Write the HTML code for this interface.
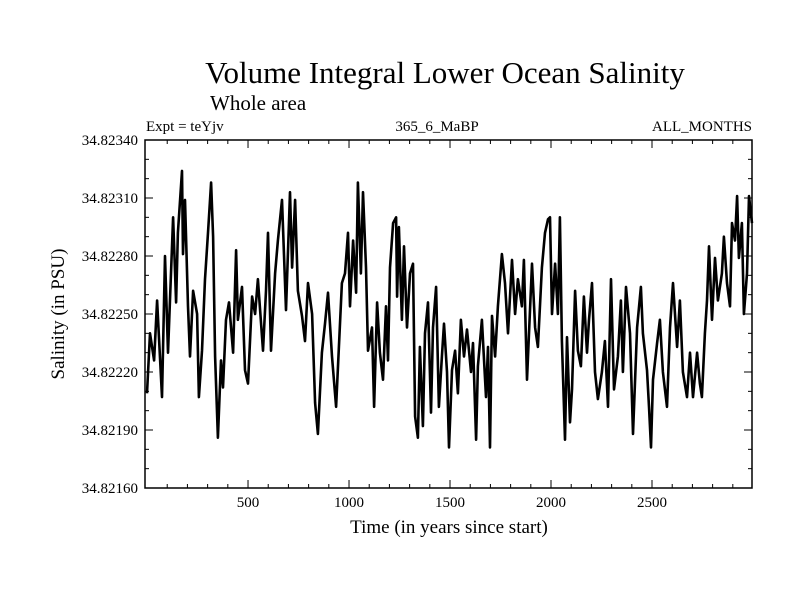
<!DOCTYPE html>
<html><head><meta charset="utf-8"><style>
html,body{margin:0;padding:0;background:#fff;}
svg{display:block;font-family:"Liberation Serif",serif;}
</style></head><body>
<svg id="chart" width="800" height="600">
<rect width="800" height="600" fill="#fff"/>
<text x="445" y="83" font-size="31" text-anchor="middle">Volume Integral Lower Ocean Salinity</text>
<text x="210" y="110" font-size="21">Whole area</text>
<text x="146" y="131" font-size="15">Expt = teYjv</text>
<text x="437" y="131" font-size="15" text-anchor="middle">365_6_MaBP</text>
<text x="752" y="131" font-size="15" text-anchor="end">ALL_MONTHS</text>
<text x="449" y="533" font-size="19" text-anchor="middle">Time (in years since start)</text>
<text transform="translate(64,314) rotate(-90)" font-size="19" text-anchor="middle">Salinity (in PSU)</text>
<g id="axes"></g>
<path id="series" fill="none" stroke="#000" stroke-width="2.6" stroke-linejoin="round"/>
<rect x="145" y="140" width="607" height="348" fill="none" stroke="#000" stroke-width="1.5"/>
</svg>
<script>
const years=[0,15,35,50,74,89,104,129,144,153,173,178,188,203,213,228,248,257,272,287,302,317,327,337,351,366,376,391,406,426,441,450,470,485,500,520,535,549,574,589,599,614,634,648,668,688,708,718,733,747,767,782,797,817,832,846,866,881,896,916,936,950,965,980,995,1005,1020,1035,1044,1059,1069,1084,1094,1114,1124,1139,1153,1168,1183,1193,1203,1218,1233,1238,1247,1262,1272,1287,1302,1317,1327,1341,1351,1366,1376,1391,1406,1416,1431,1445,1460,1470,1485,1495,1510,1525,1539,1554,1569,1584,1604,1614,1629,1638,1658,1678,1688,1698,1708,1723,1737,1757,1772,1787,1807,1822,1836,1856,1866,1881,1906,1921,1935,1955,1970,1985,1995,2005,2020,2034,2044,2054,2069,2079,2094,2104,2119,2133,2148,2163,2178,2188,2203,2218,2232,2252,2267,2282,2297,2312,2331,2346,2356,2371,2391,2406,2426,2445,2455,2475,2485,2495,2505,2525,2539,2554,2574,2589,2604,2624,2638,2653,2673,2688,2703,2723,2737,2747,2762,2772,2782,2797,2812,2826,2846,2856,2871,2886,2896,2911,2921,2930,2945,2955,2970,2980,2995];
const salinity=[34.82209,34.82240,34.82226,34.82257,34.82207,34.82280,34.82230,34.82300,34.82256,34.82292,34.82324,34.82281,34.82309,34.82254,34.82228,34.82262,34.82250,34.82207,34.82231,34.82268,34.82292,34.82318,34.82290,34.82228,34.82186,34.82226,34.82212,34.82247,34.82256,34.82230,34.82283,34.82247,34.82264,34.82221,34.82214,34.82259,34.82250,34.82268,34.82231,34.82262,34.82292,34.82231,34.82271,34.82288,34.82309,34.82252,34.82313,34.82274,34.82309,34.82262,34.82249,34.82236,34.82266,34.82250,34.82204,34.82188,34.82230,34.82245,34.82261,34.82228,34.82202,34.82233,34.82266,34.82271,34.82292,34.82254,34.82288,34.82261,34.82318,34.82271,34.82313,34.82274,34.82231,34.82243,34.82202,34.82256,34.82230,34.82216,34.82254,34.82226,34.82274,34.82297,34.82300,34.82259,34.82295,34.82247,34.82285,34.82243,34.82271,34.82276,34.82197,34.82186,34.82233,34.82192,34.82240,34.82256,34.82199,34.82243,34.82264,34.82202,34.82228,34.82245,34.82220,34.82181,34.82221,34.82231,34.82209,34.82247,34.82228,34.82242,34.82220,34.82235,34.82185,34.82223,34.82247,34.82207,34.82233,34.82181,34.82249,34.82228,34.82254,34.82281,34.82266,34.82240,34.82278,34.82250,34.82268,34.82254,34.82278,34.82216,34.82276,34.82243,34.82233,34.82274,34.82292,34.82299,34.82300,34.82250,34.82276,34.82250,34.82300,34.82236,34.82185,34.82238,34.82194,34.82211,34.82262,34.82231,34.82223,34.82259,34.82230,34.82247,34.82266,34.82220,34.82206,34.82220,34.82236,34.82202,34.82268,34.82211,34.82228,34.82257,34.82220,34.82264,34.82240,34.82188,34.82243,34.82264,34.82240,34.82221,34.82202,34.82181,34.82216,34.82235,34.82247,34.82220,34.82202,34.82243,34.82266,34.82233,34.82257,34.82220,34.82207,34.82230,34.82207,34.82230,34.82214,34.82207,34.82240,34.82257,34.82285,34.82247,34.82279,34.82257,34.82271,34.82290,34.82266,34.82254,34.82297,34.82288,34.82311,34.82279,34.82297,34.82250,34.82271,34.82311,34.82297];
const xTickLabels=[500,1000,1500,2000,2500];
const yTickLabels=["34.82160","34.82190","34.82220","34.82250","34.82280","34.82310","34.82340"];

const X0=145,X1=752,Y0=140,Y1=488;
const xMin=-10,xMax=2995,yMin=34.8216,yMax=34.8234;
const sx=v=>X0+(v-xMin)/(xMax-xMin)*(X1-X0);
const sy=v=>Y1-(v-yMin)/(yMax-yMin)*(Y1-Y0);
const NS="http://www.w3.org/2000/svg";
const axes=document.getElementById('axes');
function line(x1,y1,x2,y2,name){
  const l=document.createElementNS(NS,'line');
  l.setAttribute('x1',x1);l.setAttribute('y1',y1);l.setAttribute('x2',x2);l.setAttribute('y2',y2);
  l.setAttribute('stroke','#000');l.setAttribute('stroke-width','1');
  
  
  axes.appendChild(l);
}
function text(x,y,s,anchor,name){
  const t=document.createElementNS(NS,'text');
  t.setAttribute('x',x);t.setAttribute('y',y);t.setAttribute('font-size','15');t.setAttribute('text-anchor',anchor);
  t.textContent=s;
  
  
  axes.appendChild(t);
}
for(let yr=100;yr<xMax;yr+=100){
  const x=sx(yr), major=yr%500===0, len=major?8:4;
  line(x,Y1,x,Y1-len,'x-tick');
  line(x,Y0,x,Y0+len,'x-tick-top');
}
xTickLabels.forEach(v=>text(sx(v),507,String(v),'middle','x-tick-label'));
for(let i=0;i<=18;i++){
  const v=yMin+i*0.0001, y=sy(v), major=i%3===0, len=major?8:4;
  line(X0,y,X0+len,y,'y-tick');
  line(X1,y,X1-len,y,'y-tick-right');
}
yTickLabels.forEach(s=>text(138,sy(parseFloat(s))+5,s,'end','y-tick-label'));
let d='';
years.forEach((yr,i)=>{d+=(i?'L':'M')+sx(yr).toFixed(1)+' '+sy(salinity[i]).toFixed(1);});
document.getElementById('series').setAttribute('d',d);
</script>
</body></html>
